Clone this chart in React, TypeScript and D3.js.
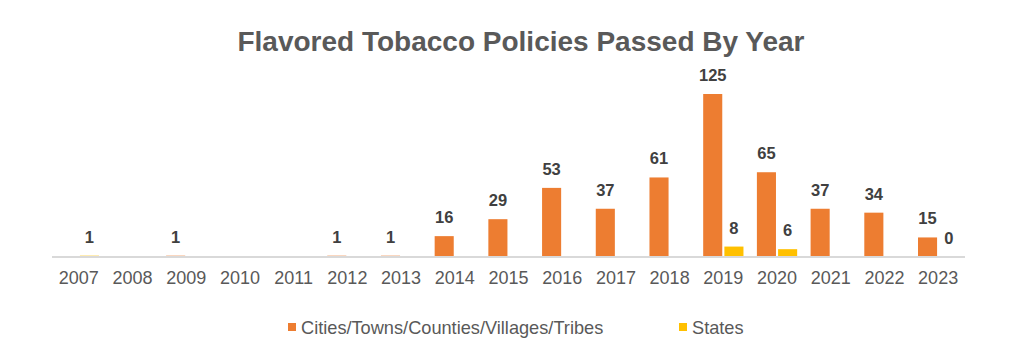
import * as d3 from "d3";
import { useRef, useEffect } from "react";

const years = ["2007", "2008", "2009", "2010", "2011", "2012", "2013", "2014", "2015", "2016", "2017", "2018", "2019", "2020", "2021", "2022", "2023"];
const localValues: (number | null)[] = [null, null, 1, null, null, 1, 1, 16, 29, 53, 37, 61, 125, 65, 37, 34, 15];
const stateValues: (number | null)[] = [1, null, null, null, null, null, null, null, null, null, null, null, 8, 6, null, null, 0];
const seriesNames = ["Cities/Towns/Counties/Villages/Tribes", "States"];
const seriesColors = ["#ED7D31", "#FFC000"];

export default function App() {
  const svgRef = useRef<SVGSVGElement | null>(null);

  useEffect(() => {
    const W = 1035;
    const H = 362;
    const svg = d3.select(svgRef.current);
    svg.selectAll("*").remove();
    svg.attr("viewBox", `0 0 ${W} ${H}`);

    const font = "'Liberation Sans', Arial, sans-serif";
    const baseY = 257;

    const x = d3.scaleBand<string>().domain(years).range([52, 965]).paddingInner(0.25).paddingOuter(0.125);
    const xs = d3.scaleBand<number>().domain([0, 1]).range([0, x.bandwidth()]).paddingInner(0.1);
    const y = d3.scaleLinear().domain([0, 125]).range([baseY, 94]);

    svg.append("text")
      .attr("x", 521)
      .attr("y", 51)
      .attr("text-anchor", "middle")
      .attr("font-family", font)
      .attr("font-weight", 700)
      .attr("font-size", 28)
      .attr("fill", "#595959")
      .text("Flavored Tobacco Policies Passed By Year");

    const series = [localValues, stateValues];
    series.forEach((vals, si) => {
      const pts = years.map((yr, i) => ({ yr, v: vals[i] })).filter(d => d.v !== null) as { yr: string; v: number }[];
      const g = svg.append("g");
      g.selectAll("rect")
        .data(pts)
        .join("rect")
        .attr("x", d => x(d.yr)! + xs(si)!)
        .attr("width", xs.bandwidth())
        .attr("y", d => y(d.v))
        .attr("height", d => baseY - y(d.v))
        .attr("fill", seriesColors[si]);
      g.selectAll("text")
        .data(pts)
        .join("text")
        .attr("x", d => x(d.yr)! + xs(si)! + xs.bandwidth() / 2)
        .attr("y", d => y(d.v) - 13)
        .attr("text-anchor", "middle")
        .attr("font-family", font)
        .attr("font-weight", 700)
        .attr("font-size", 16.5)
        .attr("fill", "#404040")
        .text(d => String(d.v));
    });

    svg.append("line")
      .attr("x1", 52)
      .attr("x2", 965)
      .attr("y1", baseY)
      .attr("y2", baseY)
      .attr("stroke", "#D9D9D9")
      .attr("stroke-width", 2);

    svg.append("g")
      .selectAll("text")
      .data(years)
      .join("text")
      .attr("x", d => x(d)! + x.bandwidth() / 2)
      .attr("y", 284)
      .attr("text-anchor", "middle")
      .attr("font-family", font)
      .attr("font-size", 18)
      .attr("fill", "#595959")
      .text(d => d);

    // legend
    const legendX = [288, 679];
    seriesNames.forEach((name, i) => {
      const lg = svg.append("g").attr("transform", `translate(${legendX[i]},323)`);
      lg.append("rect").attr("width", 8).attr("height", 8).attr("fill", seriesColors[i]);
      lg.append("text")
        .attr("x", 13)
        .attr("y", 11)
        .attr("font-family", font)
        .attr("font-size", 18.2)
        .attr("fill", "#595959")
        .text(name);
    });
  }, []);

  return (
    <svg
      ref={svgRef}
      width={1035}
      height={362}
      style={{ position: "absolute", left: 0, top: 0, display: "block", background: "#fff" }}
    />
  );
}
